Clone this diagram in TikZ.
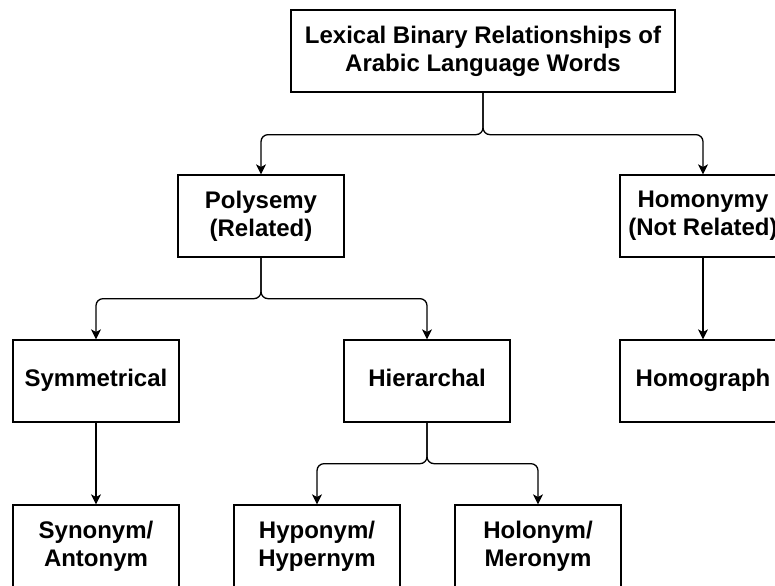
\documentclass[tikz,border=0pt]{standalone}
\usepackage{fontspec}
\setmainfont{Liberation Sans}
\usetikzlibrary{arrows.meta}

\tikzset{
  box/.style={draw, line width=0.65pt, minimum width=83pt, minimum height=41pt,
    align=center, inner sep=2pt, font=\fontsize{12}{14}\selectfont\bfseries},
  link/.style={-{Stealth[length=5pt,width=5pt,inset=1.3pt]}, line width=0.65pt,
    rounded corners=3.5pt},
}

\begin{document}
\begin{tikzpicture}[x=0.5pt, y=-0.5pt]
  \useasboundingbox (0,0) rectangle (775,585);

  % -------------------------
  % Root
  % -------------------------
  \node[box, minimum width=192pt] (lex) at (483,51)
    {Lexical Binary Relationships of\\Arabic Language Words};

  % -------------------------
  % Second level
  % -------------------------
  \node[box] (poly) at (261,216) {Polysemy\\(Related)};
  \node[box] (homo) at (703,216) {Homonymy\\(Not Related)};

  % -------------------------
  % Third level
  % -------------------------
  \node[box] (sym)  at (96,381)  {Symmetrical\strut};
  \node[box] (hier) at (427,381) {Hierarchal\strut};
  \node[box] (hgr)  at (703,381) {Homograph\strut};

  % -------------------------
  % Fourth level
  % -------------------------
  \node[box] (syn) at (96,546)  {Synonym/\\Antonym};
  \node[box] (hyp) at (317,546) {Hyponym/\\Hypernym};
  \node[box] (hol) at (538,546) {Holonym/\\Meronym};

  % Connectors
  \draw[link] (lex.south) -- ++(0,42) -| (poly.north);
  \draw[link] (lex.south) -- ++(0,42) -| (homo.north);

  \draw[link] (poly.south) -- ++(0,41) -| (sym.north);
  \draw[link] (poly.south) -- ++(0,41) -| (hier.north);
  \draw[link] (homo) -- (hgr);

  \draw[link] (sym) -- (syn);
  \draw[link] (hier.south) -- ++(0,41) -| (hyp.north);
  \draw[link] (hier.south) -- ++(0,41) -| (hol.north);

\end{tikzpicture}
\end{document}
